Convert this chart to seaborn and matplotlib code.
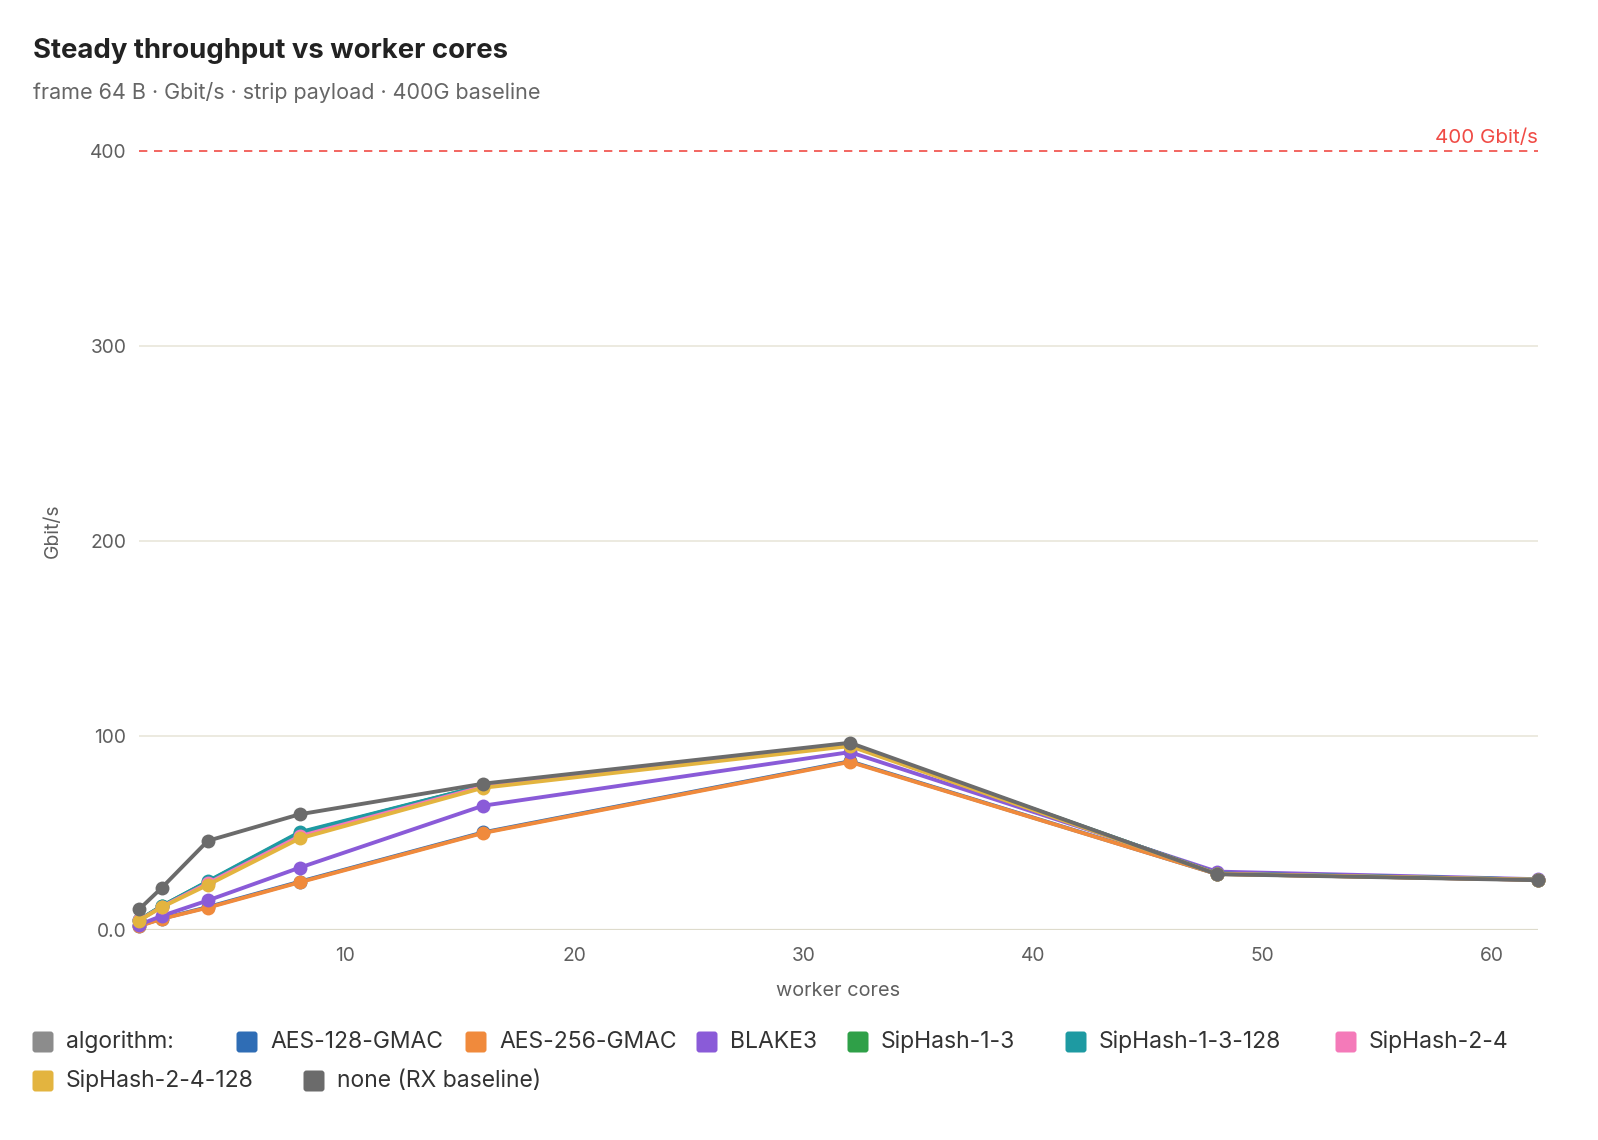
import matplotlib
matplotlib.use("Agg")
import matplotlib.pyplot as plt
from matplotlib.patches import FancyBboxPatch
from matplotlib.transforms import IdentityTransform
import numpy as np
import pandas as pd
import seaborn as sns

# --- data ---
cores = [1, 2, 4, 8, 16, 32, 48, 62]
algorithms = ['AES-128-GMAC', 'AES-256-GMAC', 'BLAKE3', 'SipHash-1-3', 'SipHash-1-3-128',
              'SipHash-2-4', 'SipHash-2-4-128', 'none (RX baseline)']
aes128 = [2.4, 6.1, 12.0, 25.0, 50.3, 86.8, 29.0, 26.0]
aes256 = [2.2, 6.0, 11.7, 24.7, 50.0, 86.5, 29.0, 26.0]
blake3 = [2.9, 7.5, 15.4, 32.2, 64.0, 91.5, 30.2, 26.3]
sip13 = [5.4, 12.6, 25.0, 50.0, 74.3, 95.3, 29.2, 26.1]
sip13_128 = [5.3, 12.5, 25.2, 50.4, 74.3, 95.3, 29.2, 26.1]
sip24 = [5.2, 12.2, 24.2, 48.3, 73.8, 95.0, 29.1, 26.0]
sip24_128 = [5.1, 12.0, 23.4, 47.2, 73.2, 94.6, 29.0, 26.0]
baseline = [10.8, 22.0, 46.0, 59.6, 75.3, 96.3, 28.9, 25.8]
series = [aes128, aes256, blake3, sip13, sip13_128, sip24, sip24_128, baseline]

colors = ['#2f6db5', '#f08a3c', '#8a5bd8', '#2fa048', '#1e9aa2', '#f47ab9', '#e3b43f', '#6b6b6b']
legend_title_color = '#8c8c8c'
y_ticks = [0, 100, 200, 300, 400]
y_ticklabels = ['0.0', '100', '200', '300', '400']
x_ticks = [10, 20, 30, 40, 50, 60]
line_rate = 400

df = pd.DataFrame({
    'cores': np.tile(cores, len(algorithms)),
    'gbps': np.concatenate(series),
    'algorithm': np.repeat(algorithms, len(cores)),
})

sns.set_theme(style='white')
plt.rcParams['font.family'] = ['Inter', 'DejaVu Sans']

fig = plt.figure(figsize=(15.98, 11.4), dpi=100)
ax = fig.add_axes([0.0870, 0.1838, 0.8753, 0.7010])

sns.lineplot(data=df, x='cores', y='gbps', hue='algorithm', hue_order=algorithms,
             palette=dict(zip(algorithms, colors)), marker='o', markersize=10,
             markeredgewidth=0, linewidth=2.8, legend=False, ax=ax, clip_on=False)

ax.set_xlim(1, 62)
ax.set_ylim(0, 410)
ax.set_yticks(y_ticks)
ax.set_yticklabels(y_ticklabels)
ax.set_xticks(x_ticks)
for s in ax.spines.values():
    s.set_visible(False)
for y in y_ticks[1:4]:
    ax.axhline(y, color='#e9e6da', linewidth=1.2, zorder=0)
ax.axhline(0, color='#dedbcc', linewidth=1.6, zorder=0)
ax.axhline(line_rate, color='#f04b45', linewidth=1.2, linestyle=(0, (5, 4)), zorder=1)
ax.text(62, line_rate + 2, f'{line_rate} Gbit/s', color='#f04b45', fontsize=14.8,
        ha='right', va='bottom')

ax.tick_params(axis='both', length=0, labelsize=13.8, labelcolor='#5f5f5f')
ax.tick_params(axis='y', pad=9)
ax.tick_params(axis='x', pad=12)
ax.set_xlabel('worker cores', fontsize=14.3, color='#5f5f5f', labelpad=12)
ax.set_ylabel('Gbit/s', fontsize=14, color='#5f5f5f', labelpad=20)

fig.text(0.0205, 0.955, 'Steady throughput vs worker cores', fontsize=19.8, fontweight='bold',
         color='#222222', va='center')
fig.text(0.0205, 0.919, 'frame 64 B \u00b7 Gbit/s \u00b7 strip payload \u00b7 400G baseline',
         fontsize=15.5, color='#666666', va='center')

# legend drawn by hand to mimic the wrapped html legend
H = 1140
entries = [('algorithm:', legend_title_color, 43, 1042)] + list(zip(
    algorithms, colors,
    [247, 476, 707, 858, 1076, 1346, 43, 314],
    [1042] * 6 + [1081] * 2))
for label, c, xc, yc in entries:
    sz = 21
    fig.add_artist(FancyBboxPatch((xc - sz / 2, H - yc - sz / 2), sz, sz,
                                  boxstyle='round,pad=0,rounding_size=3',
                                  facecolor=c, edgecolor='none', transform=IdentityTransform()))
    fig.text((xc + 23) / 1598, 1 - yc / H, label, fontsize=16.5, color='#333333',
             va='center', ha='left')

fig.savefig('out.png', dpi=100)
